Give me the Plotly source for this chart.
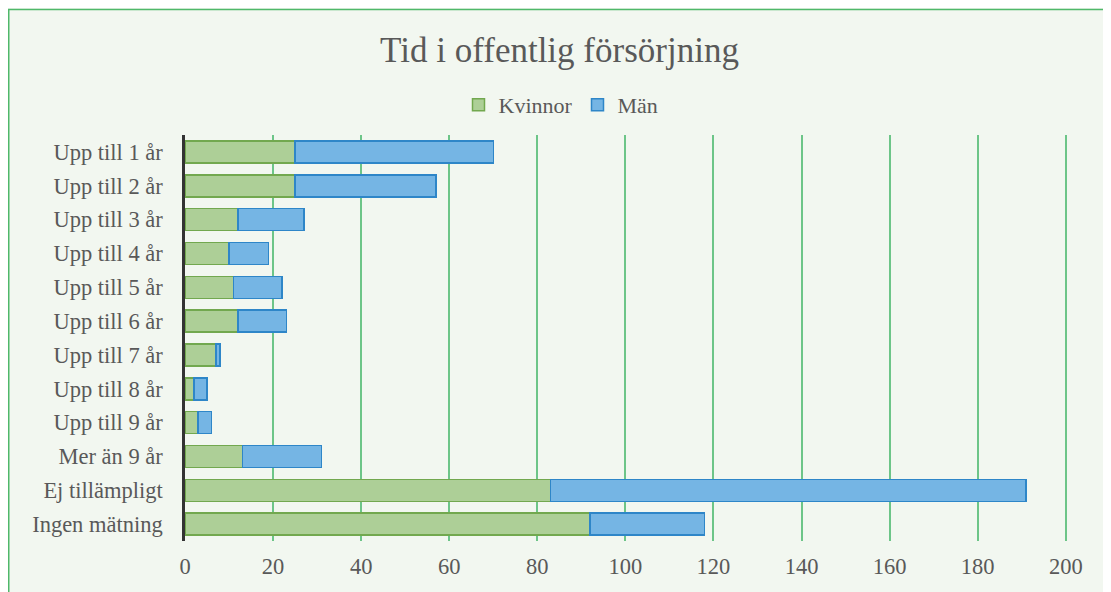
import plotly.graph_objects as go

categories = ["Upp till 1 år", "Upp till 2 år", "Upp till 3 år", "Upp till 4 år",
              "Upp till 5 år", "Upp till 6 år", "Upp till 7 år", "Upp till 8 år",
              "Upp till 9 år", "Mer än 9 år", "Ej tillämpligt", "Ingen mätning"]
kvinnor = [25, 25, 12, 10, 11, 12, 7, 2, 3, 13, 83, 92]
man = [45, 32, 15, 9, 11, 11, 1, 3, 3, 18, 108, 26]
x_ticks = [0, 20, 40, 60, 80, 100, 120, 140, 160, 180, 200]

FONT = "Liberation Serif"
TXT = "#595959"
BG = "#F2F7F0"

fig = go.Figure()
fig.add_trace(go.Bar(y=categories, x=kvinnor, name="Kvinnor", orientation="h",
                     marker=dict(color="#ADCF97", line=dict(color="#72A84F", width=1.5))))
fig.add_trace(go.Bar(y=categories, x=man, name="Män", orientation="h",
                     marker=dict(color="#75B5E4", line=dict(color="#2E86C8", width=1.5))))

# page places the figure 8px in from the top-left corner
W, H = 1103, 584
L, R, T, B = 177, 43, 127, 51
pw, ph = W - L - R, H - T - B

def px(x):
    return (x - L) / pw

def py(y):
    return (H - B - y) / ph

fig.add_shape(type="rect", xref="paper", yref="paper",
              x0=px(0.75), x1=px(1120), y0=py(1.5), y1=py(600),
              line=dict(color="#4FB86A", width=1.5), fillcolor="rgba(0,0,0,0)", layer="above")

fig.update_layout(
    width=W, height=H,
    margin=dict(l=L, r=R, t=T, b=B),
    barmode="stack", bargap=0.35,
    paper_bgcolor=BG, plot_bgcolor=BG,
    font=dict(family=FONT, color=TXT, size=22.5),
    title=dict(text="Tid i offentlig försörjning", x=0.5, xref="container", xanchor="center",
               y=1 - 42 / H, yanchor="middle", font=dict(family=FONT, size=35, color=TXT)),
    legend=dict(orientation="h", x=px(553), xanchor="center", y=py(97), yanchor="middle",
                xref="paper", font=dict(size=22, color=TXT), traceorder="normal",
                bgcolor="rgba(0,0,0,0)", itemwidth=30),
    showlegend=True,
)
fig.update_xaxes(range=[0, 200.5], tickvals=x_ticks, showgrid=True, gridcolor="#6DC588",
                 gridwidth=1.5, zeroline=False, showline=False, ticks="",
                 tickfont=dict(size=22.5, color=TXT), ticklabelstandoff=9)
fig.update_yaxes(autorange="reversed", showline=True, linecolor="#333333", linewidth=2.5,
                 showgrid=False, ticks="", tickfont=dict(size=22.5, color=TXT), ticklabelstandoff=15)

fig.write_html("out.html")
